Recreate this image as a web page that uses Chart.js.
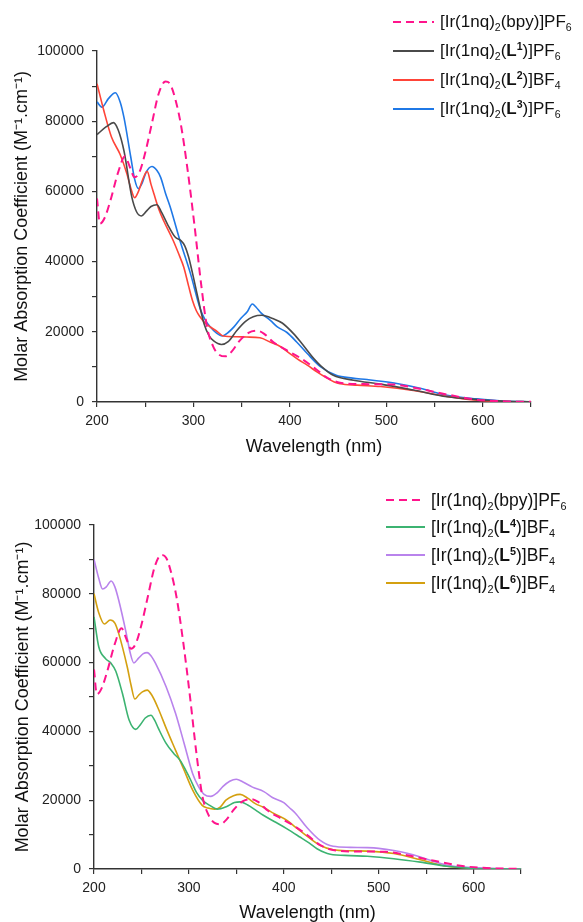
<!DOCTYPE html>
<html>
<head>
<meta charset="utf-8">
<script src="https://cdn.jsdelivr.net/npm/chart.js@4.4.0/dist/chart.umd.min.js"></script>
<style>
  body { margin: 0; background: #fff; font-family: "Liberation Sans", Arial, sans-serif; }
  #wrap { position: relative; width: 583px; height: 922px; overflow: hidden; }
  canvas { position: absolute; left: 0; }
  .row { position: absolute; height: 0; white-space: nowrap; color: #111; }
  .row svg { position: absolute; left: 0; top: -2px; }
  .row span { position: absolute; top: -11px; line-height: 22px; }
  sub { font-size: 0.62em; vertical-align: -0.38em; line-height: 0; }
  sup { font-size: 0.62em; vertical-align: 0.6em; line-height: 0; }
</style>
</head>
<body>
<div id="wrap">
  <canvas id="top" width="583" height="461" style="top:0"></canvas>
  <canvas id="bottom" width="583" height="461" style="top:461px"></canvas>
</div>
<script>
// wavelength (nm) and molar absorption coefficient (M-1 cm-1)
var bpyNm  = [200,203,208,214,222,229,234,239,244,250,257,264,271,276,281,287,294,301,308,314,321,327,333,340,348,357,366,373,383,397,411,425,438,452,476,507,530,560,590,620,650];
var bpyEps = [58000,50800,52500,57500,65500,70000,67000,64000,65500,71000,79500,87900,91300,90500,86500,79000,66000,50500,33500,21500,15500,13400,13000,14500,17500,19700,20300,19500,17000,14700,12500,9800,7000,5500,5100,5000,4000,2300,800,200,50];

var l1Nm  = [200,210,217,222,228,236,241,246,251,256,262,267,273,281,287,291,295,300,304,311,316,321,329,336,345,354,362,371,383,392,404,412,425,432,445,466,494,528,563,594,620,650];
var l1Eps = [76200,78500,79600,77500,71500,58500,54200,53000,54300,55700,56200,54000,50700,47000,46000,44500,41300,35500,30500,22300,19000,17400,16400,17200,20400,23000,24300,24700,23700,22500,19400,16800,12300,10300,7600,6200,5100,3400,1500,700,250,50];

var l2Nm  = [200,207,215,224,231,235,239,243,247,252,256,259,264,269,279,285,290,295,299,303,307,312,318,325,331,345,355,369,380,390,400,408,418,428,438,446,452,470,494,528,563,594,620,650];
var l2Eps = [90700,83100,75500,70500,65000,61000,58200,60000,63100,65700,62000,59300,55000,51700,46000,42000,38400,33000,28900,26000,24200,22500,21300,20000,18800,18600,18500,18300,17000,15800,13800,12200,10500,8600,6900,5700,5200,4800,4400,3300,1600,500,120,20];

var l3Nm  = [200,205,212,219,224,228,235,239,243,247,251,257,262,266,271,276,286,297,307,312,318,324,330,336,342,349,356,361,365,370,380,387,397,407,418,432,448,465,480,508,535,563,594,620,650];
var l3Eps = [85500,84000,86500,88100,85500,81000,69800,63500,60800,62500,65500,67100,66000,64000,59500,55500,46000,36500,26600,23500,21200,19600,18800,19800,21400,23800,25800,27900,27000,25400,23200,21400,19800,17100,13800,10000,7600,6800,6400,5400,3900,1900,900,300,50];

var l4Nm  = [200,205,212,218,223,230,237,244,249,254,260,264,268,276,284,291,297,302,308,315,322,330,340,348,354,362,370,378,392,403,417,427,435,449,470,488,516,544,572,600,625,650];
var l4Eps = [73300,64600,61200,59800,57500,51000,43300,40600,42000,43900,44700,43200,40800,36500,33600,31500,28500,25800,22300,19800,18500,17400,18200,19300,19500,18600,17200,15700,13500,11750,9300,7500,5900,4300,3900,3700,3000,2000,800,150,30,0];

var l5Nm  = [200,205,209,213,218,222,226,234,238,242,247,252,256,260,265,276,286,295,304,310,316,323,330,336,343,350,357,367,379,388,400,406,412,424,438,452,470,488,500,516,530,544,558,572,600,625,650];
var l5Eps = [90000,84500,81400,82000,83700,82000,78200,68500,63000,59900,61300,62600,62900,62000,59700,53000,45200,36500,27700,24000,21700,21100,22200,24000,25500,26100,25300,23800,22500,20800,19300,17800,16300,12200,8400,6600,6300,6200,6000,5400,4600,3500,2200,1100,400,100,20];

var l6Nm  = [200,205,211,217,222,226,235,239,243,247,251,256,261,267,277,286,295,304,314,320,327,333,339,347,354,362,370,378,390,403,413,421,438,452,470,488,516,544,572,600,625,650];
var l6Eps = [80000,74500,71200,72400,71500,68500,58800,53500,49400,50500,51500,52000,50500,47100,40300,34500,28700,22900,18500,17700,17400,18000,20000,21300,21700,20600,19000,18000,16100,14200,12000,10300,6900,5600,5300,5200,4500,2700,800,300,80,20];

var topNames = ['[Ir(1nq)2(bpy)]PF6', '[Ir(1nq)2(L1)]PF6', '[Ir(1nq)2(L2)]BF4', '[Ir(1nq)2(L3)]PF6'];
var topLabels = ['[Ir(1nq)<sub>2</sub>(bpy)]PF<sub>6</sub>',
                 '[Ir(1nq)<sub>2</sub>(<b>L<sup>1</sup></b>)]PF<sub>6</sub>',
                 '[Ir(1nq)<sub>2</sub>(<b>L<sup>2</sup></b>)]BF<sub>4</sub>',
                 '[Ir(1nq)<sub>2</sub>(<b>L<sup>3</sup></b>)]PF<sub>6</sub>'];
var bottomNames = ['[Ir(1nq)2(bpy)]PF6', '[Ir(1nq)2(L4)]BF4', '[Ir(1nq)2(L5)]BF4', '[Ir(1nq)2(L6)]BF4'];
var bottomLabels = ['[Ir(1nq)<sub>2</sub>(bpy)]PF<sub>6</sub>',
                    '[Ir(1nq)<sub>2</sub>(<b>L<sup>4</sup></b>)]BF<sub>4</sub>',
                    '[Ir(1nq)<sub>2</sub>(<b>L<sup>5</sup></b>)]BF<sub>4</sub>',
                    '[Ir(1nq)<sub>2</sub>(<b>L<sup>6</sup></b>)]BF<sub>4</sub>'];

var PINK = '#ff148c';
var FONT = '"Liberation Sans", Arial, sans-serif';
var AXIS = '#333';

function pts(xs, ys) {
    return xs.map(function (x, i) { return {x: x, y: ys[i]}; });
}

function ds(label, xs, ys, color, dashed) {
    return {
        label: label,
        data: pts(xs, ys),
        borderColor: color,
        borderWidth: dashed ? 2 : 1.6,
        borderDash: dashed ? [8, 5] : [],
        pointRadius: 0,
        cubicInterpolationMode: 'monotone',
        fill: false
    };
}

function makeChart(id, datasets, g) {
    return new Chart(document.getElementById(id), {
        type: 'line',
        data: {datasets: datasets},
        options: {
            responsive: false,
            animation: false,
            devicePixelRatio: 1,
            layout: {padding: {left: 0, right: g.right, top: g.top, bottom: 0}},
            plugins: {legend: {display: false}, tooltip: {enabled: false}},
            scales: {
                x: {
                    type: 'linear', min: 200, max: 650,
                    afterFit: function (s) { s.height = g.xh; },
                    border: {display: true, color: AXIS, width: 1.4},
                    grid: {drawOnChartArea: false, drawTicks: true, tickLength: 5, color: AXIS, lineWidth: 1.2},
                    ticks: {
                        stepSize: 50, autoSkip: false, maxRotation: 0, padding: 6,
                        color: '#222', font: {family: FONT, size: 14},
                        callback: function (v) { return v % 100 === 0 ? String(v) : ''; }
                    },
                    title: {display: true, text: 'Wavelength (nm)', color: '#111',
                            font: {family: FONT, size: 18, lineHeight: 1}, padding: {top: 0, bottom: g.xtp}}
                },
                y: {
                    min: 0, max: 100000,
                    afterFit: function (s) { s.width = g.yw; },
                    border: {display: true, color: AXIS, width: 1.4},
                    grid: {drawOnChartArea: false, drawTicks: true, tickLength: 5, color: AXIS, lineWidth: 1.2},
                    ticks: {
                        stepSize: 10000, autoSkip: false, padding: 8,
                        color: '#222', font: {family: FONT, size: 14},
                        callback: function (v) { return v % 20000 === 0 ? String(v) : ''; }
                    },
                    title: {display: true, text: 'Molar Absorption Coefficient (M\u207B\u00B9.cm\u207B\u00B9)', color: '#111',
                            font: {family: FONT, size: 18, lineHeight: 1}, padding: {top: g.ytp, bottom: 0}}
                }
            }
        }
    });
}

makeChart('top', [
    ds(topNames[0], bpyNm, bpyEps, PINK, true),
    ds(topNames[1], l1Nm, l1Eps, '#4a4a4a'),
    ds(topNames[2], l2Nm, l2Eps, '#ff4438'),
    ds(topNames[3], l3Nm, l3Eps, '#1f78e6')
], {right: 52, top: 51, xh: 59, yw: 97, xtp: 5, ytp: 13});

makeChart('bottom', [
    ds(bottomNames[0], bpyNm, bpyEps, PINK, true),
    ds(bottomNames[1], l4Nm, l4Eps, '#3cb371'),
    ds(bottomNames[2], l5Nm, l5Eps, '#b983ec'),
    ds(bottomNames[3], l6Nm, l6Eps, '#d4a010')
], {right: 62, top: 64, xh: 53, yw: 94, xtp: 0, ytp: 14});

// legends drawn as html so the sub/superscripts and bold L survive
function legend(labels, colors, x, ys, lineW, gap, size) {
    var wrap = document.getElementById('wrap');
    labels.forEach(function (html, i) {
        var row = document.createElement('div');
        row.className = 'row';
        row.style.left = x + 'px';
        row.style.top = ys[i] + 'px';
        row.style.fontSize = size + 'px';
        var dash = i === 0 ? ' stroke-dasharray="8 5"' : '';
        row.innerHTML = '<svg width="' + lineW + '" height="4"><line x1="0" y1="2" x2="' + lineW + '" y2="2" stroke="' +
            colors[i] + '" stroke-width="2"' + dash + '/></svg><span style="left:' + (lineW + gap) + 'px">' + html + '</span>';
        wrap.appendChild(row);
    });
}

legend(topLabels, [PINK, '#4a4a4a', '#ff4438', '#1f78e6'], 393, [22, 51, 80, 109], 41, 6, 17);
legend(bottomLabels, [PINK, '#3cb371', '#b983ec', '#d4a010'], 386, [500, 527, 555, 583], 39, 6, 17.5);
</script>
</body>
</html>
